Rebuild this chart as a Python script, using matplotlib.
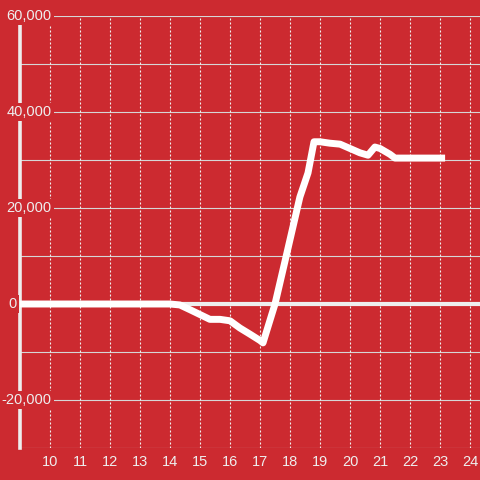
import matplotlib
matplotlib.use("Agg")
import matplotlib.pyplot as plt

# hours of the day and value
hours = [9, 14.0, 14.33, 14.67, 15.0, 15.33, 15.67, 16.0, 16.33, 16.67, 17.0, 17.1,
         17.5, 17.87, 18.33, 18.6, 18.8, 19.0, 19.33, 19.67, 20.0, 20.33, 20.6,
         20.83, 21.0, 21.33, 21.5, 22.0, 23.17]
values = [0, 0, -200, -1200, -2200, -3200, -3200, -3500, -5000, -6300, -7600, -8100,
          0, 9900, 22300, 27300, 33800, 33800, 33500, 33300, 32400, 31500, 31000,
          32700, 32400, 31200, 30400, 30400, 30400]

x_ticks = list(range(10, 25))
y_grid = list(range(-30000, 60001, 10000))
y_labels = [60000, 40000, 20000, 0, -20000]

RED = "#CC2A30"
FG = "#EEEEEE"

plt.rcParams["font.family"] = ["Liberation Sans", "DejaVu Sans"]

fig = plt.figure(figsize=(4.8, 4.8), dpi=100, facecolor=RED)
ax = fig.add_axes([20 / 480, 32 / 480, 460 / 480, 432 / 480])
ax.set_facecolor(RED)
ax.set_xlim(9, 9 + 460 / 30)
ax.set_ylim(-30000, 60000)

for s in ax.spines.values():
    s.set_visible(False)

# horizontal grid
for g in y_grid:
    if g == 0:
        ax.axhline(g, color=FG, lw=3, zorder=2)
    else:
        ax.axhline(g, color="#D6D6D6", lw=0.8, zorder=1)

# vertical dotted grid
for t in x_ticks:
    ax.axvline(t, color="#F0F0F0", lw=0.8, ls=(0, (1.8, 1.8)), zorder=1)

# y axis line
ax.axvline(9, color=FG, lw=2.6, zorder=3, clip_on=False)

ax.plot(hours, values, color="white", lw=5, solid_joinstyle="round",
        solid_capstyle="butt", zorder=4)

ax.set_xticks(x_ticks)
ax.set_xticklabels([str(t) for t in x_ticks])
ax.tick_params(axis="x", length=0, pad=5, labelsize=10.5, labelcolor=FG)
ax.set_yticks([])

for v in y_labels:
    lx = 8.9 if v == 0 else 10.05
    ax.text(lx, v, f"{v:,}", ha="right", va="center", fontsize=10.5, color=FG,
            zorder=5, clip_on=False,
            bbox=dict(facecolor=RED, edgecolor="none", pad=1.5))

fig.savefig("out.png", dpi=100, facecolor=RED)
